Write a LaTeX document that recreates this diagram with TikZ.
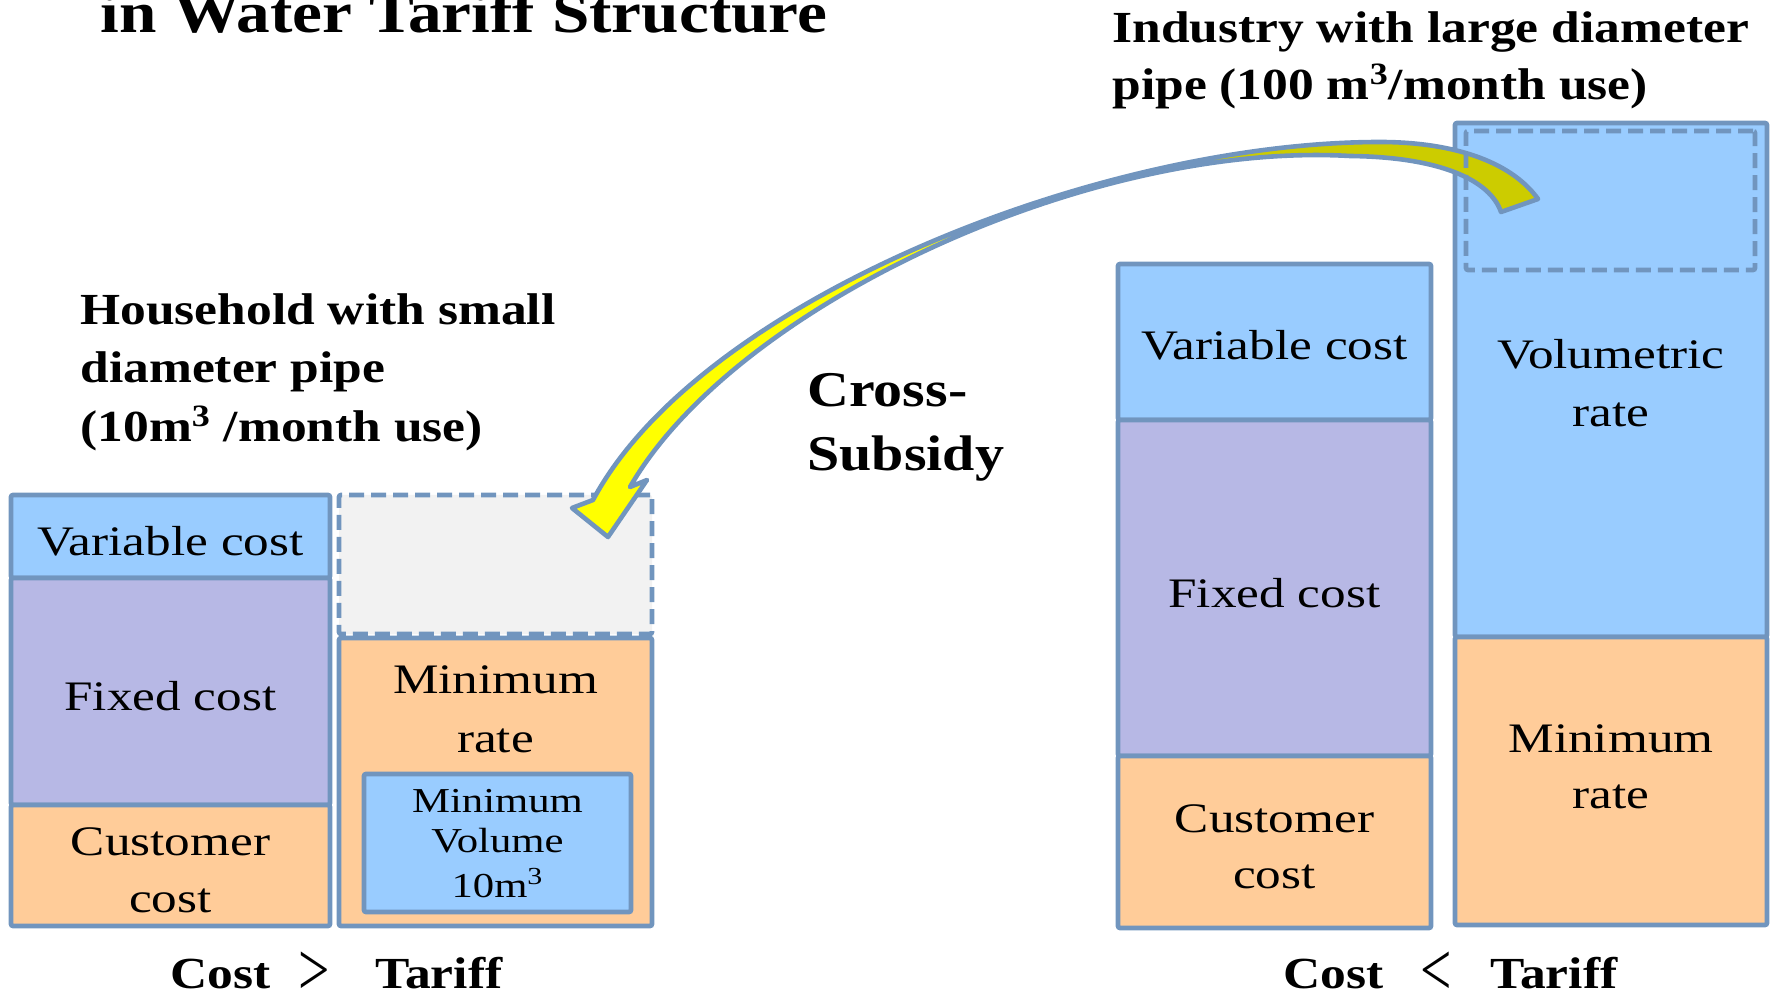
\documentclass[tikz,border=0pt]{standalone}
\usepackage{fontspec}
\usepackage{graphicx}
\setmainfont{Liberation Serif}[FakeStretch=1.22]
\newfontfamily\hdfont{Liberation Serif}[FakeStretch=1.16]

\definecolor{edgeblue}{RGB}{113,149,190}
\definecolor{varblue}{RGB}{153,204,255}
\definecolor{fixlav}{RGB}{183,184,229}
\definecolor{custpeach}{RGB}{255,204,153}
\definecolor{emptygrey}{RGB}{242,242,242}
\definecolor{arrowfront}{RGB}{255,255,0}
\definecolor{arrowback}{RGB}{204,204,0}

\tikzset{
  bar/.style={draw=edgeblue, line width=2.3pt, rounded corners=1pt,
    anchor=north west, inner sep=0pt, outer sep=0pt},
  dashbar/.style={bar, dash pattern=on 7.5pt off 3.5pt},
  lbl/.style={font=\fontsize{21}{25}\selectfont, anchor=base, inner sep=0pt},
  smalllbl/.style={font=\fontsize{17.5}{20}\selectfont, anchor=base, inner sep=0pt},
  headlbl/.style={font={\hdfont\bfseries\fontsize{22.2}{28}\selectfont}, anchor=base west, inner sep=0pt},
  crosslbl/.style={font={\hdfont\bfseries\fontsize{25}{30}\selectfont}, anchor=base west, inner sep=0pt},
  titlelbl/.style={font={\hdfont\bfseries\fontsize{29}{34}\selectfont}, anchor=base west, inner sep=0pt},
  relsym/.style={font=\fontsize{38}{38}\selectfont, anchor=base, inner sep=0pt},
}

% box from (x1,y1) to (x2,y2), in pixel units with y pointing down
\newcommand\stackbox[7][bar]{%
  \node[#1, fill=#7, minimum width={(#5-#3)*0.5pt}, minimum height={(#6-#4)*0.5pt}] (#2) at (#3,#4) {};}

% outline of the curved block arrow: outer edge, head, inner edge
\newcommand\subsidyarrow{%
  (tailA) .. controls (1510,160) and (1450,142) .. (apex)
  .. controls (1100,142) and (700,300) .. (notchL)
  -- (barbL) -- (tip) -- (barbR) -- (notchR)
  .. controls (735,305) and (1090,141) .. (bend)
  .. controls (1440,157) and (1490,180) .. (tailB)
  -- cycle}

\begin{document}
\begin{tikzpicture}[x=0.5pt, y=-0.5pt]
\useasboundingbox (0,0) rectangle (1773,994);

% headings
\node[titlelbl] (title) at (100,33) {in Water Tariff Structure};
\node[headlbl] (ind1) at (1112,43) {Industry with large diameter};
\node[headlbl] (ind2) at (1112,100) {pipe (100 m\textsuperscript{3}/month use)};
\node[headlbl] (hh1) at (80,325) {Household with small};
\node[headlbl] (hh2) at (80,383) {diameter pipe};
\node[headlbl] (hh3) at (80,442) {(10m\textsuperscript{3} /month use)};
\node[crosslbl] (cs1) at (807,407) {Cross-};
\node[crosslbl] (cs2) at (807,471) {Subsidy};

% household: cost column
\stackbox{hvar}{11}{495}{330}{578}{varblue}
\stackbox{hfix}{11}{578}{330}{805}{fixlav}
\stackbox{hcus}{11}{805}{330}{926}{custpeach}
% household: tariff column
\stackbox[dashbar]{hgap}{339}{495}{652}{634}{emptygrey}
\stackbox{hmin}{339}{638}{652}{926}{custpeach}
\stackbox{hvol}{364}{774}{631}{912}{varblue}

% industry: cost column
\stackbox{ivar}{1118}{264}{1431}{420}{varblue}
\stackbox{ifix}{1118}{420}{1431}{756}{fixlav}
\stackbox{icus}{1118}{756}{1431}{928}{custpeach}
% industry: tariff column
\stackbox{ivolr}{1455}{123}{1767}{637}{varblue}
\stackbox{imin}{1455}{637}{1767}{925}{custpeach}

% cross-subsidy arrow
\coordinate (tailA) at (1538,199);
\coordinate (apex) at (1380,142);
\coordinate (notchL) at (593,500);
\coordinate (barbL) at (572,508);
\coordinate (tip) at (608,537);
\coordinate (barbR) at (647,480);
\coordinate (notchR) at (630,487);
\coordinate (bend) at (1350,156);
\coordinate (tailB) at (1501,212);
\fill[arrowfront] \subsidyarrow;
\begin{scope}
  \clip (1000,0) rectangle (1773,400);
  \fill[arrowback] \subsidyarrow;
\end{scope}
\draw[edgeblue, line width=2.3pt, line join=round] \subsidyarrow;

% surplus share carried by the industry tariff
\stackbox[dashbar]{isurplus}{1466}{131}{1755}{270}{none}

% labels inside the bars
\node[lbl] (thvar) at (170.5,555) {Variable cost};
\node[lbl] (thfix) at (170.5,710) {Fixed cost};
\node[lbl] (thcus1) at (170.5,855) {Customer};
\node[lbl] (thcus2) at (170.5,912) {cost};
\node[lbl] (thmin1) at (495.5,693) {Minimum};
\node[lbl] (thmin2) at (495.5,752) {rate};
\node[smalllbl] (thvol1) at (497.5,812) {Minimum};
\node[smalllbl] (thvol2) at (497.5,852) {Volume};
\node[smalllbl] (thvol3) at (497.5,897) {10m\textsuperscript{3}};

\node[lbl] (tivar) at (1274.5,360) {Variable cost};
\node[lbl] (tifix) at (1274.5,607) {Fixed cost};
\node[lbl] (ticus1) at (1274.5,832) {Customer};
\node[lbl] (ticus2) at (1274.5,888) {cost};
\node[lbl] (tivol1) at (1611,369) {Volumetric};
\node[lbl] (tivol2) at (1611,427) {rate};
\node[lbl] (timin1) at (1611,752) {Minimum};
\node[lbl] (timin2) at (1611,808) {rate};

% comparisons under the columns
\node[headlbl] (hcost) at (170,988) {Cost};
\node[relsym] (hgt) at (314,995) {\scalebox{0.6}[1]{>}};
\node[headlbl] (htar) at (375,988) {Tariff};
\node[headlbl] (icost) at (1283,988) {Cost};
\node[relsym] (ilt) at (1436,995) {\scalebox{0.6}[1]{<}};
\node[headlbl] (itar) at (1490,988) {Tariff};
\end{tikzpicture}
\end{document}
